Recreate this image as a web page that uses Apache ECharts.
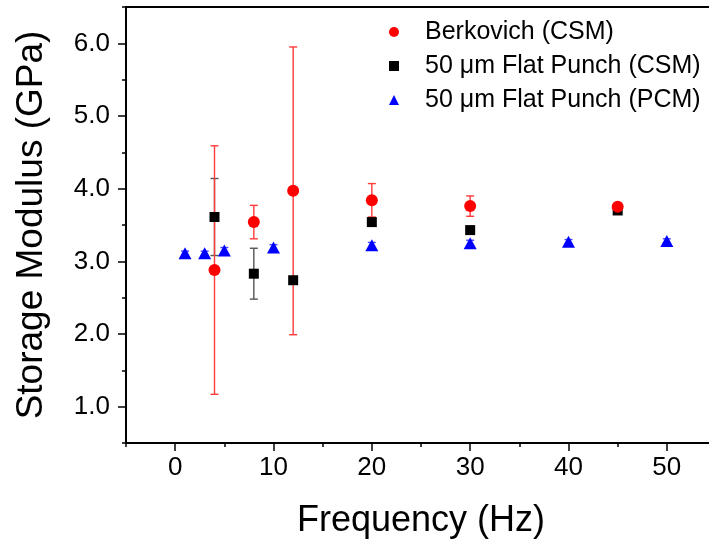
<!DOCTYPE html>
<html>
<head>
<meta charset="utf-8">
<script src="https://cdn.jsdelivr.net/npm/echarts@6/dist/echarts.min.js"></script>
<style>
  html, body { margin: 0; padding: 0; background: #fff; overflow: hidden; }
  /* wider than the window so the frame's right edge falls just off-screen, like the cropped original */
  #chart { width: 730px; height: 544px; }
</style>
</head>
<body>
<div id="chart"></div>
<script>
// storage modulus vs frequency, three test methods, each with +/- error
const seriesNames = ["Berkovich (CSM)", "50 μm Flat Punch (CSM)", "50 μm Flat Punch (PCM)"]

const berkFreq = [4, 8, 12, 20, 30, 45]
const berkMod = [2.88, 3.54, 3.97, 3.84, 3.76, 3.75]
const berkErr = [1.71, 0.23, 1.98, 0.23, 0.14, 0.04]

const csmFreq = [4, 8, 12, 20, 30, 45]
const csmMod = [3.61, 2.83, 2.74, 3.54, 3.43, 3.70]
const csmErr = [0.53, 0.35, 0, 0, 0, 0.02]

const pcmFreq = [1, 3, 5, 10, 20, 30, 40, 50]
const pcmMod = [3.11, 3.11, 3.15, 3.19, 3.22, 3.25, 3.27, 3.28]
const pcmErr = [0.03, 0.03, 0.04, 0.04, 0.04, 0.04, 0.03, 0.03]

const xMajor = [0, 10, 20, 30, 40, 50]
const xMinor = [-5, 5, 15, 25, 35, 45, 55]
const yMajor = [1, 2, 3, 4, 5, 6]
const yMinor = [0.5, 1.5, 2.5, 3.5, 4.5, 5.5, 6.5]

const FONT = "Liberation Sans, Arial, sans-serif"

const zip = (xs, ys, es) => xs.map((x, i) => es ? [x, ys[i], es[i]] : [x, ys[i]])

function errorBars(name, xs, ys, es, color, z) {
  return {
    type: "custom",
    name: name,
    z: z,
    silent: true,
    data: zip(xs, ys, es),
    renderItem: (params, api) => {
      const x = api.value(0), y = api.value(1), e = api.value(2)
      if (!e) return
      const top = api.coord([x, y + e])
      const bot = api.coord([x, y - e])
      const cx = top[0]
      const hw = 4
      const st = { stroke: color, lineWidth: 1.4 }
      return {
        type: "group",
        children: [
          { type: "line", shape: { x1: cx, y1: top[1], x2: cx, y2: bot[1] }, style: st },
          { type: "line", shape: { x1: cx - hw, y1: top[1], x2: cx + hw, y2: top[1] }, style: st },
          { type: "line", shape: { x1: cx - hw, y1: bot[1], x2: cx + hw, y2: bot[1] }, style: st },
        ],
      }
    },
  }
}

const chart = echarts.init(document.getElementById("chart"))

const baseX = { type: "value", min: -5, max: 55, splitLine: { show: false } }
const baseY = { type: "value", min: 0.5, max: 6.5, splitLine: { show: false } }

chart.setOption({
  backgroundColor: "#fff",
  animation: false,
  grid: { left: 126, top: 7, width: 590, height: 436, show: true, borderColor: "#000", borderWidth: 2 },
  legend: {
    data: seriesNames,
    orient: "vertical",
    left: 384,
    top: 10,
    itemWidth: 10,
    itemHeight: 10,
    itemGap: 0,
    textStyle: { fontFamily: FONT, fontSize: 25, color: "#000", lineHeight: 34, padding: [0, 0, 0, 21] },
  },
  xAxis: [
    Object.assign({}, baseX, {
      position: "bottom",
      name: "Frequency (Hz)",
      nameLocation: "middle",
      nameGap: 60,
      nameTextStyle: { fontFamily: FONT, fontSize: 36, color: "#000" },
      axisLine: { show: true, onZero: false, lineStyle: { color: "#000", width: 2 } },
      axisTick: { show: true, length: 8, customValues: xMajor, lineStyle: { color: "#000", width: 1.5 } },
      axisLabel: { customValues: xMajor, margin: 12, fontFamily: FONT, fontSize: 26, color: "#000" },
    }),
    Object.assign({}, baseX, {
      position: "bottom",
      axisLine: { show: false, onZero: false },
      axisTick: { show: true, length: 4, customValues: xMinor, lineStyle: { color: "#000", width: 1.5 } },
      axisLabel: { show: false },
    }),
  ],
  yAxis: [
    Object.assign({}, baseY, {
      position: "left",
      name: "Storage Modulus (GPa)",
      nameLocation: "middle",
      nameGap: 76,
      nameTextStyle: { fontFamily: FONT, fontSize: 37, color: "#000" },
      axisLine: { show: true, onZero: false, lineStyle: { color: "#000", width: 2 } },
      axisTick: { show: true, length: 8, customValues: yMajor, lineStyle: { color: "#000", width: 1.5 } },
      axisLabel: {
        customValues: yMajor,
        margin: 16,
        fontFamily: FONT,
        fontSize: 26,
        color: "#000",
        formatter: (v) => v.toFixed(1),
      },
    }),
    Object.assign({}, baseY, {
      position: "left",
      axisLine: { show: false, onZero: false },
      axisTick: { show: true, length: 4, customValues: yMinor, lineStyle: { color: "#000", width: 1.5 } },
      axisLabel: { show: false },
    }),
  ],
  series: [
    errorBars("csmErr", csmFreq, csmMod, csmErr, "#555555", 2),
    errorBars("pcmErr", pcmFreq, pcmMod, pcmErr, "#4a4aff", 2),
    errorBars("berkErr", berkFreq, berkMod, berkErr, "#ff3b3b", 2),
    {
      type: "scatter",
      name: seriesNames[1],
      data: zip(csmFreq, csmMod),
      symbol: "rect",
      symbolSize: 10,
      itemStyle: { color: "#000", opacity: 1 },
      z: 3,
    },
    {
      type: "scatter",
      name: seriesNames[2],
      data: zip(pcmFreq, pcmMod),
      symbol: "triangle",
      symbolSize: [13, 12],
      itemStyle: { color: "#0000ff", opacity: 1 },
      z: 3,
    },
    {
      type: "scatter",
      name: seriesNames[0],
      data: zip(berkFreq, berkMod),
      symbol: "circle",
      symbolSize: 12,
      itemStyle: { color: "#ff0000", opacity: 1 },
      z: 4,
    },
  ],
})
</script>
</body>
</html>
